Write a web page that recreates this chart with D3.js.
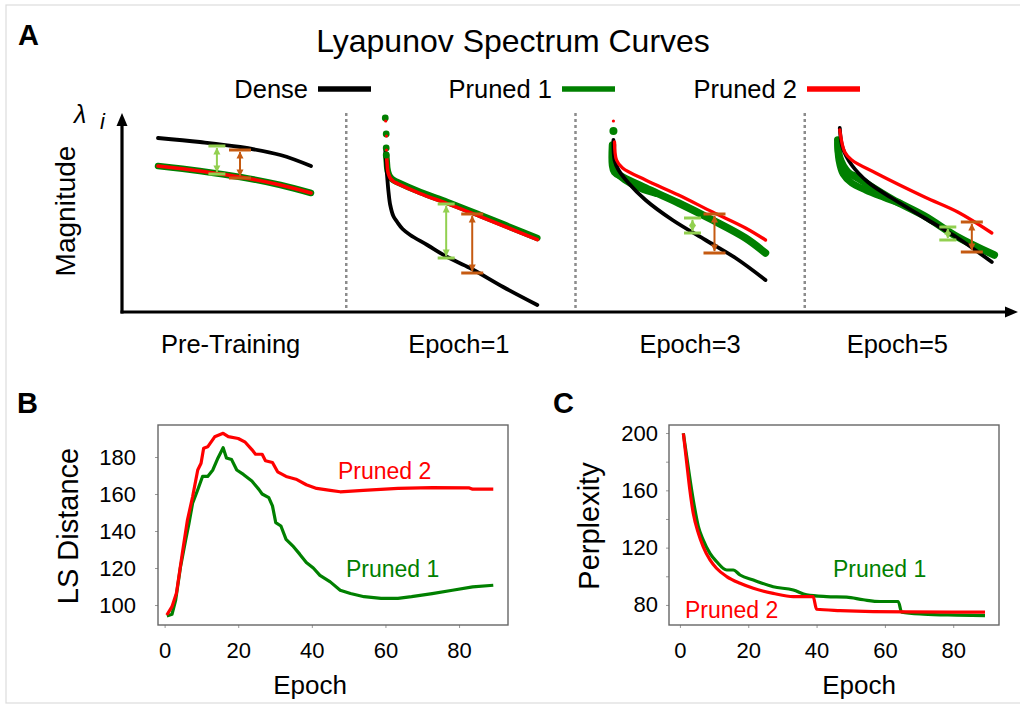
<!DOCTYPE html>
<html><head><meta charset="utf-8">
<script src="https://cdn.jsdelivr.net/npm/d3@7"></script>
<style>body{margin:0;background:#fff} svg{display:block} text{font-family:"Liberation Sans",Arial,sans-serif}</style>
</head><body><svg id="c" width="1020" height="704"></svg>
<script>
// ---------------- DATA ----------------
const stages = ["Pre-Training", "Epoch=1", "Epoch=3", "Epoch=5"];
const seriesNames = ["Dense", "Pruned 1", "Pruned 2"];

// Panel A: Lyapunov spectra, [rank (0-100), magnitude (0-100)]
const preDense = [[0,87],[27,85],[53,82.5],[79,78.5],[98.7,73]];
const prePruned1 = [[0,73],[27,70.5],[53,67.5],[79,63.5],[98.7,59.5]];
const prePruned2 = [[0,73],[27,70.5],[53,67.5],[79,63.5],[98.7,59.5]];

const e1Dense = [[1.3,81],[1.9,74],[2.6,67],[3.4,60],[4.5,53.5],[6.5,48],[9,45],[12.5,41.5],[17.4,38.5],[28.4,33.5],[41.3,27.5],[56,22],[77.4,12.5],[99.4,3.5]];
const e1Pruned1 = [[1.9,78.5],[2.3,75],[2.6,72],[3.3,69.5],[4.5,67.5],[6.5,66],[9,65],[23.9,60],[41.3,55],[62.6,48.5],[99.4,37]];
const e1Pruned2 = [[2.2,77],[2.5,74],[2.8,71],[3.5,68.7],[4.7,66.7],[6.7,65.2],[9.2,64.2],[23.9,59.2],[41.3,54.2],[62.6,47.7],[99.4,36.2]];

const e3Dense = [[0.6,86],[1.3,76],[3.9,71],[10.3,64.5],[21.3,56],[38.7,46],[60,36],[79.4,27],[98.7,16]];
const e3Pruned1 = [[0,83.5],[0,73.5],[1.3,70],[6.5,67.5],[21.3,62],[42.6,54.5],[64.5,46],[85.8,37],[98.7,29.5]];
const e3Pruned2 = [[1.3,85],[2.6,76],[6.5,72],[21.3,66],[42.6,58.5],[64.5,50],[85.8,42],[98.7,36]];

const e5Dense = [[1.3,92],[3.2,82],[9,73.5],[19.4,65],[34.8,57],[56,47],[77.4,37],[99.4,25]];
const e5Pruned1 = [[0,86],[1.3,77],[6.5,70],[12.9,67],[34.8,56.5],[56,48],[77.4,37.5],[101,28.5]];
const e5Pruned2 = [[1.3,91],[4.5,80],[9,76],[24.5,69.5],[56,57.5],[77.4,50],[99.4,39.5]];

const denseCurves = [preDense, e1Dense, e3Dense, e5Dense];
const pruned1Curves = [prePruned1, e1Pruned1, e3Pruned1, e5Pruned1];
const pruned2Curves = [prePruned2, e1Pruned2, e3Pruned2, e5Pruned2];

// spread of the Pruned 1 spectrum near its largest exponents: [stage, rank, magnitude]
const spreadPruned1 = [
  [[2,0,82],[2,0.5,75],[2,2.5,70],[2,8,66],[2,18,61.8],[2,28,59.3]],
  [[3,0,84],[3,0.8,76],[3,3.5,69],[3,9,64.5],[3,18,61],[3,30,57.3],[3,40,54.4]]
];
// top outlying exponents shown as dots: [stage, rank, magnitude]
const topDotsPruned1 = [[1,1.3,97],[1,1.9,89],[1,1.9,82],[1,1.9,78.5],[2,0.6,90.5]];
const topDotsPruned2 = [[1,1.6,95.5],[1,2.1,88],[1,2.1,81],[2,0.6,95.5]];

// gap indicators: [stage, rank, upper magnitude, lower magnitude, pruned model]
const gapArrows = [
  [0, 38, 83, 69, "Pruned 1"], [0, 52.9, 81, 67, "Pruned 2"],
  [1, 40.6, 54, 27, "Pruned 1"], [1, 57.4, 49, 19.5, "Pruned 2"],
  [2, 51.6, 47, 39.5, "Pruned 1"], [2, 65.8, 49, 29.5, "Pruned 2"],
  [3, 71, 42.5, 36, "Pruned 1"], [3, 86.5, 45, 30, "Pruned 2"]
];

// Panel B: LS distance vs epoch
const epochsB1 = [0.6,2,3,4.3,5.7,6.6,7.6,9,10.3,11.7,13.1,14.5,15.9,16.8,18.2,19.6,21.4,23.7,25.6,26.5,28.3,29.3,30.2,31.6,33,34.8,36.7,38.5,40.4,42.2,45,47.7,50.5,54.2,58.8,63.4,67.1,72.7,78.2,83.7,89.3];
const lsB1 = [94,95,102.7,120.4,135,144,155,162.3,169.5,169.5,173,179.5,185,179.5,178.6,173,170.6,167,162.5,160,158,153.6,144.5,142.7,135.5,132,127.5,123,120,116,112.5,108,106.2,104.5,103.6,103.6,104.5,106.2,108,109.8,110.7];
const epochsB2 = [0.6,2,3.2,4.8,6.2,7.6,9,9.9,10.6,11.7,13.6,15.9,17.3,20,21.9,23.7,24.7,26.5,27.4,29.3,30.7,33,35.7,38.5,41.3,45,47.7,54,63.4,72.7,82.8,83.7,89.3];
const lsB2 = [94.6,99.1,106.3,127.9,145.9,158.5,173,176.6,184.7,185.5,190.9,192.8,191,190,188,184,181.5,181.5,178,177,172,169.5,168,165,163,162,161.2,162,163,163.5,163.3,162.6,162.6];
const ticksBx = [0,20,40,60,80];
const ticksBy = [100,120,140,160,180];

// Panel C: perplexity vs epoch
const epochsC1 = [1,2.4,3.9,5.4,6.8,8.8,10.7,13.7,15.6,17.6,21.5,27.3,33.2,37.1,42.9,48.8,53.7,58.6,63.9,64.9,71.3,81,89.3];
const pplC1 = [199.8,176.6,153.3,134.7,125.4,116,110.3,104.4,104.4,100.9,97.4,92.7,90.4,87,85.8,85.4,83.6,82.4,82.4,75,73.6,72.9,72.5];
const epochsC2 = [1,2,2.9,3.9,5.4,6.8,8.8,10.7,13.7,17.6,21.5,27.3,33.2,39,40,46.9,56.6,66.4,89.3];
const pplC2 = [199.8,178.9,160.3,144,130,120.7,111.4,105.6,99.8,95.1,91.6,88.1,85.8,85.8,77,76.1,75.4,75.2,75];
const ticksCx = [0,20,40,60,80];
const ticksCy = [80,100,120,140,160,180,200];
const labelsCy = [80,120,160,200];

// ---------------- STYLE ----------------
const BLACK = "#000", GREEN = "#008000", RED = "#ff0000", LGREEN = "#92d050", BROWN = "#c55a11";
const FONT = '"Liberation Sans", Arial, sans-serif';

const svg = d3.select("#c");
svg.append("rect").attr("x", 6).attr("y", 5).attr("width", 1030).attr("height", 698)
  .attr("fill", "none").attr("stroke", "#dcdcdc").attr("stroke-width", 1.2);

// ---------------- PANEL A ----------------
const A = svg.append("g");
A.append("text").attr("x", 18).attr("y", 45).attr("font-size", 29).attr("font-weight", "bold").text("A");
A.append("text").attr("x", 513).attr("y", 52).attr("text-anchor", "middle").attr("font-size", 32).text("Lyapunov Spectrum Curves");

// legend
const legColors = [BLACK, GREEN, RED];
const legTextEnd = [308, 552, 797];
seriesNames.forEach((s, i) => {
  A.append("text").attr("x", legTextEnd[i]).attr("y", 98).attr("text-anchor", "end").attr("font-size", 25.5).text(s);
  A.append("line").attr("x1", legTextEnd[i] + 10).attr("x2", legTextEnd[i] + 63).attr("y1", 89).attr("y2", 89)
    .attr("stroke", legColors[i]).attr("stroke-width", 5.5);
});

const xStage = d3.scaleBand().domain(stages).range([117, 1034]);
const stagePad = [41, 37, 37, 33];
const labelShift = [-1, -2, 0, -22];
const rankScale = stages.map((s, i) => d3.scaleLinear().domain([0, 100]).range([xStage(s) + stagePad[i], xStage(s) + stagePad[i] + 155]));
const yA = d3.scaleLinear().domain([0, 100]).range([312, 112]);

// separators
stages.slice(1).forEach(s => {
  A.append("line").attr("x1", xStage(s)).attr("x2", xStage(s)).attr("y1", 113).attr("y2", 308)
    .attr("stroke", "#8c8c8c").attr("stroke-width", 2.5).attr("stroke-dasharray", "3,3");
});

// axes with arrows
A.append("line").attr("x1", 122).attr("x2", 122).attr("y1", 313.5).attr("y2", 124).attr("stroke", BLACK).attr("stroke-width", 3.2);
A.append("path").attr("d", `M122,${113} L116.5,126 L127.5,126 Z`).attr("fill", BLACK);
A.append("line").attr("x1", 120.5).attr("x2", 1007).attr("y1", 312).attr("y2", 312).attr("stroke", BLACK).attr("stroke-width", 3.2);
A.append("path").attr("d", `M1018,312 L1005,306.5 L1005,317.5 Z`).attr("fill", BLACK);

A.append("text").attr("transform", "translate(75,211) rotate(-90)").attr("text-anchor", "middle").attr("font-size", 28).text("Magnitude");
A.append("text").attr("x", 74).attr("y", 123).attr("font-size", 25).attr("font-style", "italic").attr("font-family", '"DejaVu Serif", serif').text("λ");
A.append("text").attr("x", 100).attr("y", 129).attr("font-size", 22).attr("font-style", "italic").attr("font-family", '"DejaVu Serif", serif').text("i");

stages.forEach((s, i) => {
  A.append("text").attr("x", xStage(s) + xStage.bandwidth() / 2 + labelShift[i]).attr("y", 353)
    .attr("text-anchor", "middle").attr("font-size", 25.5).text(s);
});

function drawCurve(data, i, color, width) {
  const line = d3.line().x(d => rankScale[i](d[0])).y(d => yA(d[1])).curve(d3.curveCatmullRom.alpha(0.5));
  A.append("path").attr("d", line(data)).attr("fill", "none").attr("stroke", color)
    .attr("stroke-width", width).attr("stroke-linecap", "round").attr("stroke-linejoin", "round");
}
const p1Width = [6.5, 6.5, 7.5, 7.5];
const p2Width = [3.6, 3.6, 3.3, 3.3];
stages.forEach((s, i) => {
  drawCurve(pruned1Curves[i], i, GREEN, p1Width[i]);
  spreadPruned1.filter(sp => sp[0][0] === i).forEach(sp => drawCurve(sp.map(d => [d[1], d[2]]), i, GREEN, 7));
  drawCurve(denseCurves[i], i, BLACK, 3.8);
  drawCurve(pruned2Curves[i], i, RED, p2Width[i]);
});
topDotsPruned1.forEach(d => {
  A.append("circle").attr("cx", rankScale[d[0]](d[1])).attr("cy", yA(d[2])).attr("r", d[0] === 1 ? 3.4 : 4).attr("fill", GREEN);
});
topDotsPruned2.forEach(d => {
  A.append("circle").attr("cx", rankScale[d[0]](d[1])).attr("cy", yA(d[2])).attr("r", 1.6).attr("fill", RED);
});

// gap indicators
gapArrows.forEach(g => {
  const x = rankScale[g[0]](g[1]);
  const y1 = yA(g[2]), y2 = yA(g[3]);
  const col = g[4] === "Pruned 1" ? LGREEN : BROWN;
  const hw = g[4] === "Pruned 1" ? 8.5 : 11;
  const ah = Math.min(7, (y2 - y1) / 2.2);
  A.append("line").attr("x1", x).attr("x2", x).attr("y1", y1 + 2).attr("y2", y2 - 2).attr("stroke", col).attr("stroke-width", 2);
  A.append("path").attr("d", `M${x},${y1 + 1.5} L${x - 3.5},${y1 + 1.5 + ah} L${x + 3.5},${y1 + 1.5 + ah} Z`).attr("fill", col);
  A.append("path").attr("d", `M${x},${y2 - 1.5} L${x - 3.5},${y2 - 1.5 - ah} L${x + 3.5},${y2 - 1.5 - ah} Z`).attr("fill", col);
  [y1, y2].forEach(y => A.append("line").attr("x1", x - hw).attr("x2", x + hw).attr("y1", y).attr("y2", y).attr("stroke", col).attr("stroke-width", 3));
});

// ---------------- PANELS B & C ----------------
function panel(opts) {
  const g = svg.append("g");
  const x = d3.scaleLinear().domain(opts.xd).range([opts.x0, opts.x1]);
  const y = d3.scaleLinear().domain(opts.yd).range([625, 425]);
  g.append("text").attr("x", opts.letterX).attr("y", 413).attr("font-size", 29).attr("font-weight", "bold").text(opts.letter);

  const ax = g.append("g").attr("transform", "translate(0,625)")
    .call(d3.axisBottom(x).tickValues(opts.xt).tickSize(3).tickPadding(14).tickFormat(d3.format("d")));
  const ay = g.append("g").attr("transform", `translate(${opts.x0},0)`)
    .call(d3.axisLeft(y).tickValues(opts.yt).tickSize(3).tickPadding(opts.ypad)
      .tickFormat(d => opts.yl.includes(d) ? d : ""));
  [ax, ay].forEach(a => {
    a.select(".domain").remove();
    a.selectAll(".tick line").attr("stroke", "#999").attr("stroke-width", 1);
    a.selectAll("text").attr("font-size", 22).attr("font-family", FONT).attr("fill", "#000");
  });
  g.append("rect").attr("x", opts.x0).attr("y", 425).attr("width", opts.x1 - opts.x0).attr("height", 200)
    .attr("fill", "none").attr("stroke", "#666").attr("stroke-width", 1.4);

  opts.series.forEach(s => {
    const line = d3.line().x((d, i) => x(s.e[i])).y(d => y(d)).curve(s.curve);
    g.append("path").attr("d", line(s.v)).attr("fill", "none").attr("stroke", s.color).attr("stroke-width", 3.2)
      .attr("stroke-linejoin", "round");
  });
  opts.tags.forEach(t => g.append("text").attr("x", t.x).attr("y", t.y).attr("font-size", 23).attr("fill", t.color).text(t.text));
  g.append("text").attr("x", (opts.x0 + opts.x1) / 2 + opts.exShift).attr("y", 694).attr("text-anchor", "middle").attr("font-size", 26).text("Epoch");
  g.append("text").attr("transform", `translate(${opts.ylabX},${526}) rotate(-90)`).attr("text-anchor", "middle").attr("font-size", 29).text(opts.ylab);
}

panel({
  letter: "B", letterX: 17, xd: [-1.8, 93.3], yd: [89.2, 197.3], x0: 158, x1: 508,
  xt: ticksBx, yt: ticksBy, yl: ticksBy, ypad: 19, ylab: "LS Distance", ylabX: 78, exShift: -23,
  series: [
    { e: epochsB1, v: lsB1, color: GREEN, curve: d3.curveLinear },
    { e: epochsB2, v: lsB2, color: RED, curve: d3.curveLinear }
  ],
  tags: [{ x: 338, y: 479, text: "Pruned 2", color: RED }, { x: 346, y: 577, text: "Pruned 1", color: GREEN }]
});

panel({
  letter: "C", letterX: 553, xd: [-3.2, 93.4], yd: [66, 205.6], x0: 669, x1: 999,
  xt: ticksCx, yt: ticksCy, yl: labelsCy, ypad: 8, ylab: "Perplexity", ylabX: 599, exShift: 25,
  series: [
    { e: epochsC1, v: pplC1, color: GREEN, curve: d3.curveMonotoneX },
    { e: epochsC2, v: pplC2, color: RED, curve: d3.curveMonotoneX }
  ],
  tags: [{ x: 833, y: 577, text: "Pruned 1", color: GREEN }, { x: 685, y: 618, text: "Pruned 2", color: RED }]
});
</script></body></html>
